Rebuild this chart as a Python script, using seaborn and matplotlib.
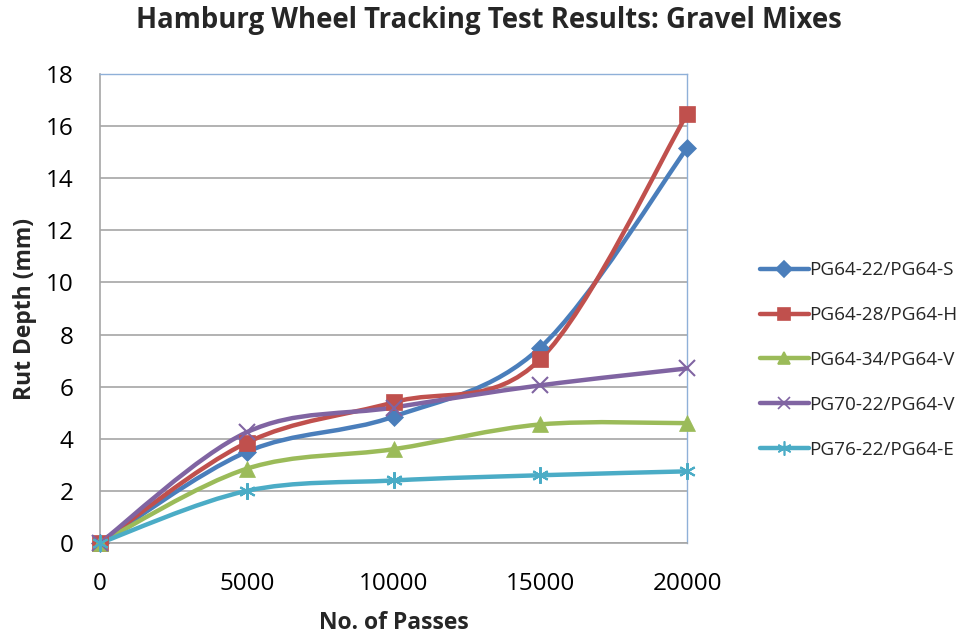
import numpy as np
import pandas as pd
import seaborn as sns
import matplotlib.pyplot as plt
from matplotlib.path import Path
from matplotlib.patches import PathPatch
from matplotlib.lines import Line2D

# data
passes = [0, 5000, 10000, 15000, 20000]
pg6422_s = [0, 3.5, 4.85, 7.5, 15.15]
pg6428_h = [0, 3.85, 5.4, 7.05, 16.45]
pg6434_v = [0, 2.85, 3.6, 4.55, 4.6]
pg7022_v = [0, 4.25, 5.2, 6.05, 6.7]
pg7622_e = [0, 2.0, 2.4, 2.6, 2.75]

names = ['PG64-22/PG64-S', 'PG64-28/PG64-H', 'PG64-34/PG64-V',
         'PG70-22/PG64-V', 'PG76-22/PG64-E']
series = [pg6422_s, pg6428_h, pg6434_v, pg7022_v, pg7622_e]
colors = ['#4A7EBB', '#C0504D', '#9BBB59', '#8064A2', '#4BACC6']
markers = ['D', 's', '^', 'x', (6, 2, 0)]
msizes = [9, 11, 11, 11, 12]

sns.set_style('white')
plt.rcParams['font.family'] = ['Open Sans', 'DejaVu Sans']

fig = plt.figure(figsize=(9.77, 6.37), dpi=100)
ax = fig.add_axes([100/977, 1-543/637, 587/977, 469/637])


def smooth_path(xs, ys):
    # excel style smoothed line as cubic bezier segments
    pts = np.column_stack([xs, ys]).astype(float)
    n = len(pts)
    verts = [pts[0]]
    codes = [Path.MOVETO]
    for i in range(n - 1):
        p0 = pts[max(i - 1, 0)]
        p1 = pts[i]
        p2 = pts[i + 1]
        p3 = pts[min(i + 2, n - 1)]
        verts += [p1 + (p2 - p0) / 6, p2 - (p3 - p1) / 6, p2]
        codes += [Path.CURVE4] * 3
    return Path(verts, codes)


handles = []
for name, vals, c, m, ms in zip(names, series, colors, markers, msizes):
    df = pd.DataFrame({'passes': passes, 'rut': vals})
    ax.add_patch(PathPatch(smooth_path(df['passes'], df['rut']), fill=False,
                           edgecolor=c, lw=3.2, capstyle='round', zorder=3,
                           clip_on=False))
    line_marker = m == 'x' or isinstance(m, tuple)
    sns.lineplot(data=df, x='passes', y='rut', ax=ax, color=c, marker=m,
                 markersize=ms, markeredgewidth=1.5 if line_marker else 0.5,
                 markeredgecolor=c, linewidth=0, zorder=4, clip_on=False,
                 legend=False)
    handles.append(Line2D([], [], color=c, lw=3.2, marker=m, markersize=ms * 0.85,
                          markeredgecolor=c, markeredgewidth=1.2))

ax.set_xlim(0, 20000)
ax.set_ylim(0, 18)
ax.set_xticks(passes)
ax.set_yticks(range(0, 19, 2))
ax.yaxis.grid(True, color='#a6a6a6', lw=1.2)
ax.set_axisbelow(True)

for s in ['top', 'right']:
    ax.spines[s].set_color('#8fb0d8')
    ax.spines[s].set_linewidth(1)
for s in ['left', 'bottom']:
    ax.spines[s].set_color('#a6a6a6')
    ax.spines[s].set_linewidth(1.2)

ax.tick_params(axis='both', labelsize=17.5, colors='#a6a6a6', labelcolor='black',
               length=7, width=1.2, direction='out')
ax.tick_params(axis='x', pad=14)
ax.tick_params(axis='y', pad=12)

ax.set_xlabel('No. of Passes', fontsize=16.5, fontweight='bold', labelpad=11)
ax.set_ylabel('Rut Depth (mm)', fontsize=16.5, fontweight='bold', labelpad=6)
fig.suptitle('Hamburg Wheel Tracking Test Results: Gravel Mixes',
             fontsize=19.8, fontweight='bold', x=0.5, y=0.99)

fig.legend(handles, names, loc='center left', bbox_to_anchor=(752/977, 1-360/637),
           frameon=False, fontsize=13.6, handlelength=2.6, handletextpad=0.05,
           labelspacing=1.42, borderaxespad=0)

fig.savefig('out.png', dpi=100)
